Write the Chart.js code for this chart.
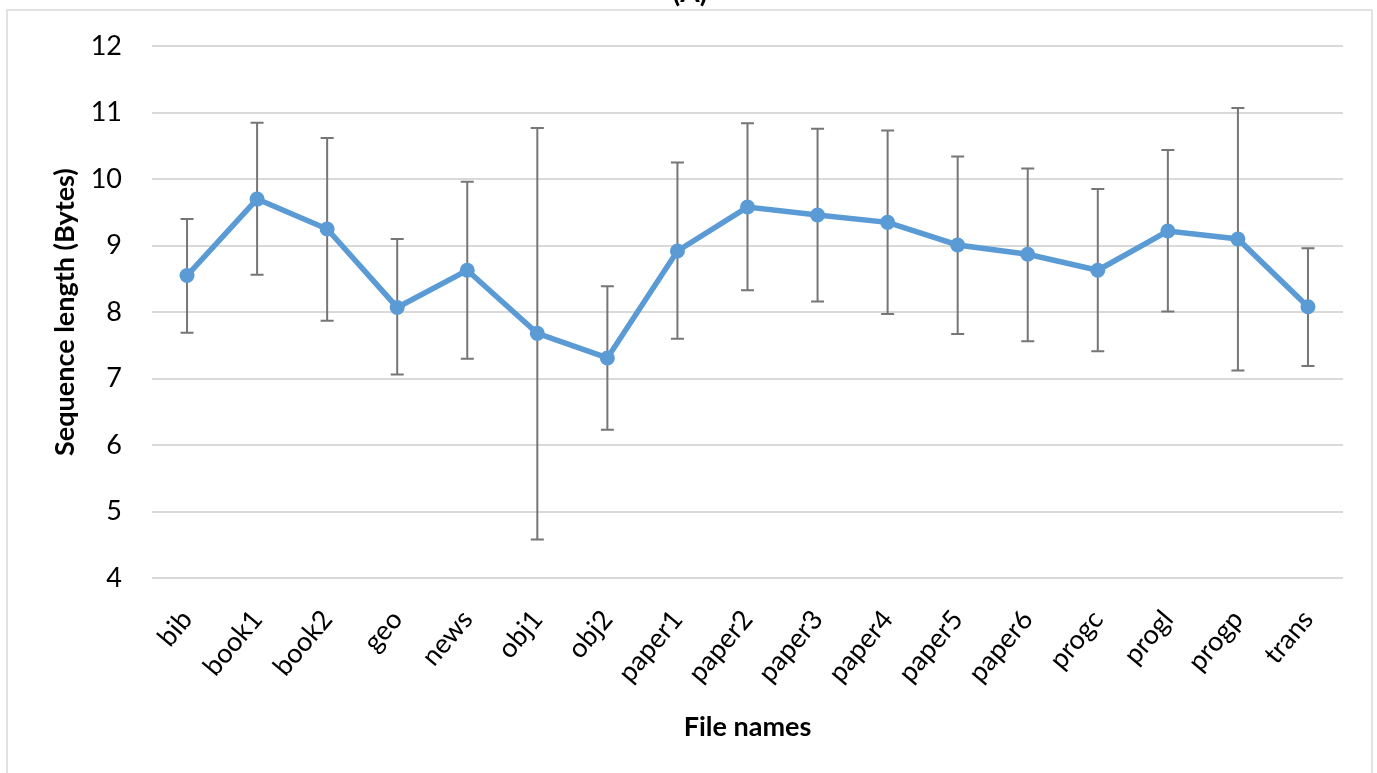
<!DOCTYPE html>
<html>
<head>
<meta charset="utf-8">
<script src="https://cdn.jsdelivr.net/npm/chart.js@4"></script>
<style>
  html, body { margin: 0; padding: 0; background: #fff; }
  #wrap { width: 1377px; height: 773px; }
</style>
</head>
<body>
<div id="wrap"><canvas id="seqChart" width="1377" height="773"></canvas></div>
<script>
// Valores
const fileNames = ['bib', 'book1', 'book2', 'geo', 'news', 'obj1', 'obj2', 'paper1', 'paper2',
    'paper3', 'paper4', 'paper5', 'paper6', 'progc', 'progl', 'progp', 'trans'];
const meanLength = [8.55, 9.70, 9.25, 8.07, 8.63, 7.68, 7.31, 8.92, 9.58, 9.46, 9.35, 9.01, 8.87, 8.63, 9.22, 9.10, 8.08];
const upperBar = [9.40, 10.85, 10.62, 9.10, 9.96, 10.77, 8.39, 10.25, 10.84, 10.76, 10.73, 10.34, 10.16, 9.85, 10.44, 11.07, 8.96];
const lowerBar = [7.69, 8.56, 7.87, 7.06, 7.30, 4.58, 6.23, 7.60, 8.33, 8.16, 7.97, 7.67, 7.56, 7.41, 8.01, 7.12, 7.19];
const yTicks = [4, 5, 6, 7, 8, 9, 10, 11, 12];

const FONT = 'Lato, "Open Sans", sans-serif';

// moldura e título cortado
const framePlugin = {
    id: 'frame',
    beforeDraw(chart) {
        const ctx = chart.ctx;
        ctx.save();
        ctx.fillStyle = '#fff';
        ctx.fillRect(0, 0, chart.width, chart.height);
        ctx.strokeStyle = '#d9d9d9';
        ctx.lineWidth = 1.5;
        ctx.strokeRect(7, 10, 1365, 800);
        ctx.fillStyle = '#000';
        ctx.font = 'bold 28px ' + FONT;
        ctx.textAlign = 'center';
        ctx.textBaseline = 'alphabetic';
        ctx.fillText('(A)', 690, 2);
        ctx.restore();
    }
};

// barras de erro
const errorBarPlugin = {
    id: 'errorBars',
    beforeDatasetsDraw(chart) {
        const ctx = chart.ctx;
        const x = chart.scales.x;
        const y = chart.scales.y;
        ctx.save();
        ctx.strokeStyle = '#767676';
        ctx.lineWidth = 2;
        for (let i = 0; i < fileNames.length; i++) {
            const px = x.getPixelForValue(i);
            const yTop = y.getPixelForValue(upperBar[i]);
            const yBot = y.getPixelForValue(lowerBar[i]);
            ctx.beginPath();
            ctx.moveTo(px, yTop);
            ctx.lineTo(px, yBot);
            ctx.moveTo(px - 6.5, yTop);
            ctx.lineTo(px + 6.5, yTop);
            ctx.moveTo(px - 6.5, yBot);
            ctx.lineTo(px + 6.5, yBot);
            ctx.stroke();
        }
        ctx.restore();
    }
};

new Chart(document.getElementById('seqChart').getContext('2d'), {
    type: 'line',
    data: {
        labels: fileNames,
        datasets: [{
            data: meanLength,
            borderColor: '#5b9bd5',
            backgroundColor: '#5b9bd5',
            borderWidth: 5.5,
            pointRadius: 7.5,
            pointBorderWidth: 0,
            tension: 0,
            fill: false
        }]
    },
    options: {
        responsive: false,
        animation: false,
        layout: { padding: { top: 45, right: 34, bottom: 0, left: 0 } },
        plugins: {
            legend: { display: false },
            tooltip: { enabled: false }
        },
        scales: {
            x: {
                offset: true,
                grid: { display: false, drawTicks: false },
                border: { display: false },
                ticks: {
                    color: '#000',
                    font: { family: FONT, size: 27 },
                    minRotation: 50,
                    maxRotation: 50,
                    padding: 26,
                    autoSkip: false
                },
                title: {
                    display: true,
                    text: 'File names',
                    color: '#000',
                    font: { family: FONT, size: 27, weight: 'bold' },
                    padding: { top: 0, bottom: 30 }
                },
                afterFit(scale) { scale.height = 195; }
            },
            y: {
                min: 4,
                max: 12,
                afterBuildTicks(scale) { scale.ticks = yTicks.map(v => ({ value: v })); },
                grid: { color: '#d9d9d9', lineWidth: 2, drawTicks: false },
                border: { display: false },
                ticks: {
                    color: '#000',
                    font: { family: FONT, size: 27 },
                    padding: 30
                },
                title: {
                    display: true,
                    text: 'Sequence length (Bytes)',
                    color: '#000',
                    font: { family: FONT, size: 27, weight: 'bold' },
                    padding: { top: 49, bottom: 0 }
                },
                afterFit(scale) { scale.width = 152; }
            }
        }
    },
    plugins: [framePlugin, errorBarPlugin]
});
</script>
</body>
</html>
